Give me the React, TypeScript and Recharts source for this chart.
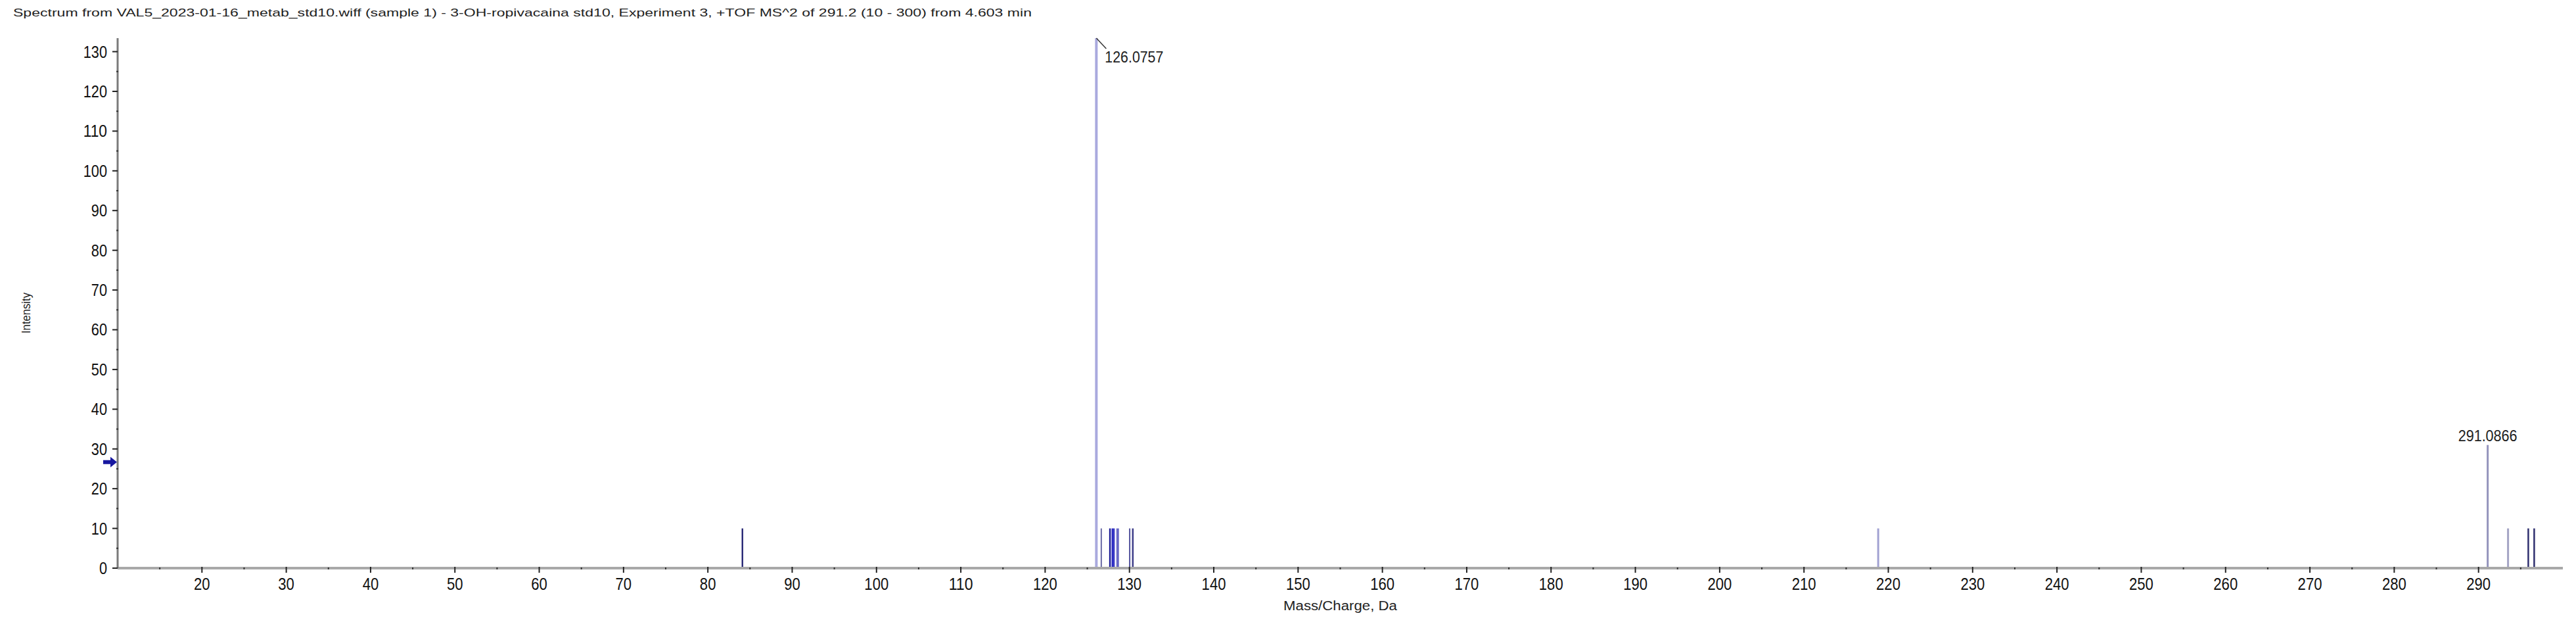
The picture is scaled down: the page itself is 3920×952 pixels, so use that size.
import React from 'react';
import { ComposedChart, XAxis, YAxis, ReferenceLine, ReferenceDot, Scatter } from 'recharts';

const titleText =
  'Spectrum from VAL5_2023-01-16_metab_std10.wiff  (sample 1) - 3-OH-ropivacaina std10, Experiment 3,  +TOF MS^2 of  291.2 (10 - 300) from 4.603 min';

const peakMz = [84.1, 126.0757, 126.66, 127.69, 127.98, 128.16, 128.6, 130.03, 130.4, 218.8, 291.0866, 293.5, 295.9, 296.6];
const peakIntensity = [10, 133.4, 10, 10, 10, 10, 10, 10, 10, 10, 31, 10, 10, 10];
const peakColors = [
  '#2c2c78', '#a9a9de', '#6a6aa6', '#1e1e96', '#2a2ac4', '#3a3ac4', '#6868c6', '#50509c', '#3c3c88',
  '#a2a2d2', '#9494bc', '#a4a4c4', '#2e2e6e', '#2e2e6e',
];
const peakWidths = [2.5, 4, 2, 2.5, 2.5, 2.5, 4, 2, 2.5, 3, 3, 3, 2.5, 2.5];

const labelMzTop = 126.0757;
const labelMzRight = 291.0866;

const xMajorTicks = [20, 30, 40, 50, 60, 70, 80, 90, 100, 110, 120, 130, 140, 150, 160, 170, 180, 190, 200, 210, 220, 230, 240, 250, 260, 270, 280, 290];
const xMinorTicks = [15, 25, 35, 45, 55, 65, 75, 85, 95, 105, 115, 125, 135, 145, 155, 165, 175, 185, 195, 205, 215, 225, 235, 245, 255, 265, 275, 285, 295];
const yMajorTicks = [0, 10, 20, 30, 40, 50, 60, 70, 80, 90, 100, 110, 120, 130];
const yMinorTicks = [5, 15, 25, 35, 45, 55, 65, 75, 85, 95, 105, 115, 125];

const xDomain = [10, 300];
const yDomain = [0, 133.4];
const precursorLevel = 26.7;

const peaks = peakMz.map((mz, i) => ({ mz, intensity: peakIntensity[i] }));

const FONT = '"Liberation Sans", Arial, sans-serif';

const XTick = (props: any) => {
  const { x, y, payload } = props;
  const v = payload.value;
  if (v % 10 !== 0) {
    return <line x1={x} x2={x} y1={y - 1} y2={y + 2} stroke="#333" strokeWidth={2} />;
  }
  const s = String(v);
  return (
    <g>
      <line x1={x} x2={x} y1={y - 2} y2={y + 7} stroke="#222" strokeWidth={2} />
      <text x={x} y={y + 33} textAnchor="middle" fontSize={25} fontFamily={FONT} fill="#111"
        textLength={s.length * 12.3} lengthAdjust="spacingAndGlyphs">{s}</text>
    </g>
  );
};

const YTick = (props: any) => {
  const { x, y, payload } = props;
  const v = payload.value;
  if (v % 10 !== 0) {
    return <line x1={x - 2} x2={x + 1} y1={y} y2={y} stroke="#333" strokeWidth={2} />;
  }
  const s = String(v);
  return (
    <g>
      <line x1={x - 8} x2={x} y1={y} y2={y} stroke="#222" strokeWidth={2} />
      <text x={x - 16} y={y + 9} textAnchor="end" fontSize={25} fontFamily={FONT} fill="#111"
        textLength={s.length * 12.1} lengthAdjust="spacingAndGlyphs">{s}</text>
    </g>
  );
};

const TopLabel = (props: any) => {
  const vb = props.viewBox || {};
  const x = vb.x;
  const y = vb.y;
  return (
    <g>
      <line x1={x} y1={y} x2={x + 15} y2={y + 16} stroke="#333" strokeWidth={1.5} />
      <text x={x + 13} y={y + 37} fontSize={24} fontFamily={FONT} fill="#222"
        textLength={89} lengthAdjust="spacingAndGlyphs">{String(labelMzTop)}</text>
    </g>
  );
};

const RightLabel = (props: any) => {
  const vb = props.viewBox || {};
  return (
    <text x={vb.x} y={vb.y - 6} textAnchor="middle" fontSize={24} fontFamily={FONT} fill="#222"
      textLength={90} lengthAdjust="spacingAndGlyphs">{String(labelMzRight)}</text>
  );
};

const Arrow = (props: any) => {
  const { cx, cy } = props;
  const pts = [
    [cx - 22, cy - 3], [cx - 11, cy - 3], [cx - 11, cy - 8], [cx - 1, cy],
    [cx - 11, cy + 8], [cx - 11, cy + 3], [cx - 22, cy + 3],
  ].map((p) => p.join(',')).join(' ');
  return <polygon points={pts} fill="#1818a0" />;
};

const XLabel = (props: any) => {
  const vb = props.viewBox || {};
  return (
    <text x={vb.x + vb.width / 2} y={vb.y + 64} textAnchor="middle" fontSize={20} fontFamily={FONT} fill="#222"
      textLength={173} lengthAdjust="spacingAndGlyphs">Mass/Charge, Da</text>
  );
};

const YLabel = (props: any) => {
  const vb = props.viewBox || {};
  const cx = vb.x + 32;
  const cy = vb.y + vb.height / 2 + 15;
  return (
    <text x={cx} y={cy} transform={`rotate(-90 ${cx} ${cy})`} textAnchor="middle" dominantBaseline="central"
      fontSize={18} fontFamily={FONT} fill="#222" textLength={62} lengthAdjust="spacingAndGlyphs">Intensity</text>
  );
};

export default function App() {
  const W = 3904;
  const H = 936;
  return (
    <div style={{ position: 'relative', width: W, height: H, background: '#fff' }}>
      <ComposedChart width={W} height={H} data={peaks} margin={{ top: 50, right: 12, left: 0, bottom: 40 }}>
        <XAxis
          type="number"
          dataKey="mz"
          domain={xDomain}
          ticks={[...xMajorTicks, ...xMinorTicks].sort((a, b) => a - b)}
          interval={0}
          allowDataOverflow
          height={40}
          tickSize={0}
          tickMargin={0}
          tickLine={false}
          tick={<XTick />}
          axisLine={{ stroke: '#a8a8a8', strokeWidth: 4 }}
          label={<XLabel />}
        />
        <YAxis
          type="number"
          dataKey="intensity"
          domain={yDomain}
          ticks={[...yMajorTicks, ...yMinorTicks].sort((a, b) => a - b)}
          interval={0}
          allowDataOverflow
          width={171}
          tickSize={0}
          tickMargin={0}
          tickLine={false}
          tick={<YTick />}
          axisLine={{ stroke: '#7a7a7a', strokeWidth: 3 }}
          label={<YLabel />}
        />
        <Scatter dataKey="intensity" isAnimationActive={false} shape={() => <g />} />
        {peaks.map((p, i) => (
          <ReferenceLine
            key={i}
            segment={[{ x: p.mz, y: 0 }, { x: p.mz, y: p.intensity }]}
            stroke={peakColors[i]}
            strokeWidth={peakWidths[i]}
            ifOverflow="visible"
          />
        ))}
        <ReferenceDot x={labelMzTop} y={peakIntensity[peakMz.indexOf(labelMzTop)]} r={0} ifOverflow="visible"
          fill="none" stroke="none" label={<TopLabel />} />
        <ReferenceDot x={labelMzRight} y={peakIntensity[peakMz.indexOf(labelMzRight)]} r={0} ifOverflow="visible"
          fill="none" stroke="none" label={<RightLabel />} />
        <ReferenceDot x={xDomain[0]} y={precursorLevel} r={6} ifOverflow="visible" shape={<Arrow />} />
      </ComposedChart>
      <svg width={W} height={40} style={{ position: 'absolute', left: 0, top: 0, pointerEvents: 'none' }}>
        <text x={12} y={17} fontSize={17} fontFamily={FONT} fill="#222" textLength={1550} lengthAdjust="spacingAndGlyphs">
          {titleText}
        </text>
      </svg>
    </div>
  );
}
